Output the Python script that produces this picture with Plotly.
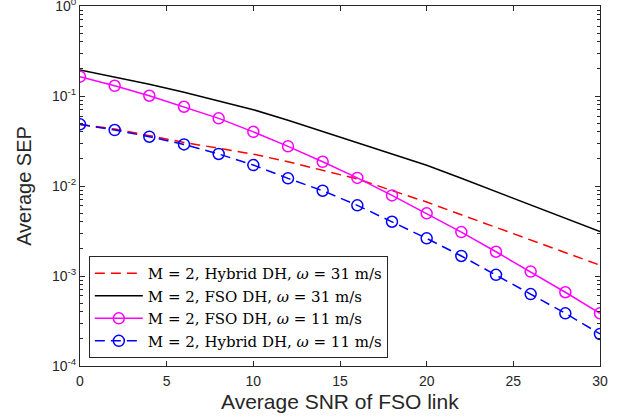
import plotly.graph_objects as go

snr = [0, 2, 4, 6, 8, 10, 12, 14, 16, 18, 20, 22, 24, 26, 28, 30]

hybrid_31 = [0.0484, 0.0430, 0.0363, 0.0305, 0.0263, 0.0226, 0.0186, 0.0150,
             0.0120, 0.0089, 0.00664, 0.00479, 0.00347, 0.00251, 0.00182, 0.00132]
fso_31 = [0.1945, 0.162, 0.135, 0.110, 0.088, 0.0705, 0.0537, 0.0403,
          0.0298, 0.0226, 0.0170, 0.0122, 0.00865, 0.00617, 0.00437, 0.00311]
fso_11 = [0.164, 0.130, 0.1007, 0.076, 0.0565, 0.040, 0.0276, 0.0186,
          0.0123, 0.00787, 0.00497, 0.00308, 0.00186, 0.00112, 0.00066, 0.000385]
hybrid_11 = [0.0485, 0.0419, 0.0353, 0.0290, 0.0227, 0.0171, 0.01217, 0.00887,
             0.0061, 0.00401, 0.00262, 0.00167, 0.00103, 0.00063, 0.000385, 0.000227]

names = [
    "M = 2, Hybrid DH, <i>ω</i> = 31 m/s",
    "M = 2, FSO DH, <i>ω</i> = 31 m/s",
    "M = 2, FSO DH, <i>ω</i> = 11 m/s",
    "M = 2, Hybrid DH, <i>ω</i> = 11 m/s",
]

x_title = "Average SNR of FSO link"
y_title = "Average SEP"

xticks = [0, 5, 10, 15, 20, 25, 30]
yticks = [1e-4, 1e-3, 1e-2, 1e-1, 1]
yticklabels = ["10<sup>-4</sup>", "10<sup>-3</sup>", "10<sup>-2</sup>", "10<sup>-1</sup>", "10<sup>0</sup>"]
decades = [1e-4, 1e-3, 1e-2, 1e-1]
minor_mult = [2, 3, 4, 5, 6, 7, 8, 9]
yminor = [d * m for d in decades for m in minor_mult]

fig = go.Figure()
fig.add_trace(go.Scatter(x=snr, y=hybrid_31, name=names[0], mode="lines",
                         line=dict(color="#FF0000", width=1.5, dash="10px,6px")))
fig.add_trace(go.Scatter(x=snr, y=fso_31, name=names[1], mode="lines",
                         line=dict(color="#000000", width=1.5)))
fig.add_trace(go.Scatter(x=snr, y=fso_11, name=names[2], mode="lines+markers",
                         line=dict(color="#FF00FF", width=1.5),
                         marker=dict(symbol="circle-open", size=11, color="#FF00FF",
                                     line=dict(width=1.5))))
fig.add_trace(go.Scatter(x=snr, y=hybrid_11, name=names[3], mode="lines+markers",
                         line=dict(color="#0000FF", width=1.5, dash="10px,6px"),
                         marker=dict(symbol="circle-open", size=11, color="#0000FF",
                                     line=dict(width=1.5))))

axis_common = dict(showline=True, linecolor="#262626", linewidth=1, mirror="allticks",
                   ticks="inside", tickcolor="#262626", ticklen=5, showgrid=False,
                   zeroline=False, ticklabeloverflow="allow", automargin=False,
                   tickfont=dict(family="Liberation Sans, Arial", size=14, color="#262626"))

fig.update_xaxes(range=[0, 30], tickvals=xticks, ticklabelstandoff=2, **axis_common)
fig.update_yaxes(type="log", range=[-4, 0.0005], tickvals=yticks, ticktext=yticklabels,
                 minor=dict(ticks="inside", ticklen=3, tickcolor="#262626", showgrid=False,
                            tickvals=yminor),
                 title=dict(text=y_title, standoff=14,
                            font=dict(family="Liberation Sans, Arial", size=20, color="#262626")),
                 **axis_common)

fig.add_annotation(text=x_title, xref="paper", yref="paper", x=0.5, y=-0.098,
                   xanchor="center", yanchor="middle", showarrow=False,
                   font=dict(family="Liberation Sans, Arial", size=21, color="#262626"))

fig.update_layout(
    width=623, height=417,
    margin=dict(l=80, r=23, t=6, b=51),
    paper_bgcolor="white", plot_bgcolor="white",
    showlegend=True,
    legend=dict(x=0.017, y=0.022, xanchor="left", yanchor="bottom",
                bgcolor="white", bordercolor="#262626", borderwidth=1,
                font=dict(family="DejaVu Serif", size=15, color="black"),
                itemwidth=48, tracegroupgap=0),
)

fig.write_html("out.html", config={"displayModeBar": False},
               post_script="document.body.style.margin='0';document.body.style.padding='0';")
